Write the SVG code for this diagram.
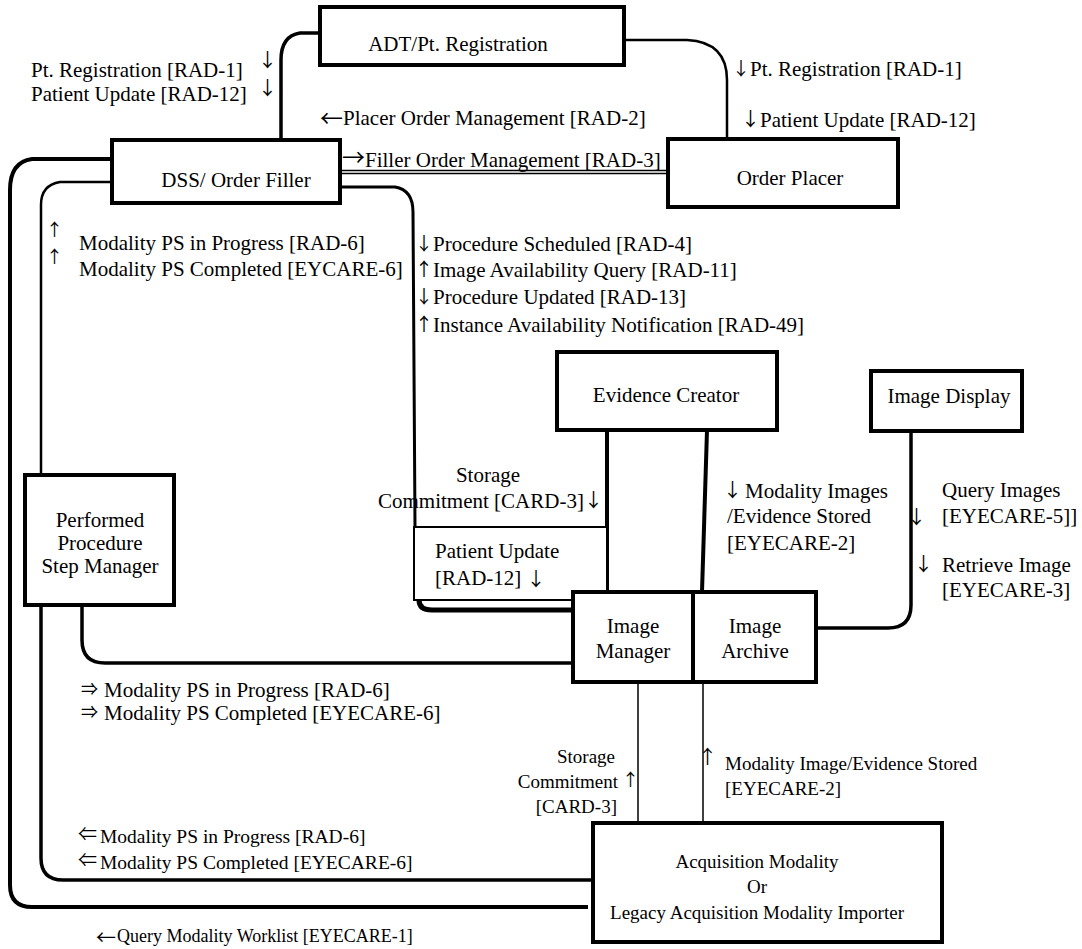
<svg xmlns="http://www.w3.org/2000/svg" width="1082" height="949" viewBox="0 0 1082 949">
<style>
text{font-family:"Liberation Serif","Times New Roman",serif;font-size:21px;fill:#000}
.a{font-family:"Noto Sans CJK JP","Noto Sans CJK SC",sans-serif}
.sm{font-size:19px}
.s195{font-size:19.5px}
.s18{font-size:18px}
.box{fill:#fff;stroke:#000;stroke-width:4}
.thin{fill:#fff;stroke:#000;stroke-width:2}
.c{fill:none;stroke:#000;stroke-linecap:butt}
.mid{text-anchor:middle}
.end{text-anchor:end}
</style>
<rect width="1082" height="949" fill="#fff"/>
<g id="connectors">
<path class="c" d="M320,33 H300 Q281,36 281,60 V140" stroke-width="3.5"/>
<path class="c" d="M624,40 H687 Q727,42 727,80 V139" stroke-width="2.5"/>
<path class="c" d="M340,172 H668" stroke-width="4.5"/>
<path d="M340,172 H668" stroke="#fff" stroke-width="1.3"/>
<path class="c" d="M112,159 H32 Q10,162 10,190 V885 Q10,907 32,907 H588" stroke-width="4"/>
<path class="c" d="M112,182 H60 Q41,185 41,205 V475" stroke-width="2.5"/>
<path class="c" d="M41,605 V858 Q41,880 63,880 H597" stroke-width="3.5"/>
<path class="c" d="M82,605 V640 Q82,663 105,663 H573" stroke-width="3.5"/>
<path class="c" d="M340,187 H395 Q413,190 413,212 L415,527" stroke-width="3"/>
<path class="c" d="M419,600 Q419,610 432,610 H573" stroke-width="5"/>
<path class="c" d="M607,430 V592" stroke-width="4"/>
<path class="c" d="M707,430 L702,592" stroke-width="4"/>
<path class="c" d="M911,431 V605 Q911,628 888,628 H816" stroke-width="3.5"/>
<path class="c" d="M638,682 V823" stroke-width="1.5"/>
<path class="c" d="M703,682 V823" stroke-width="1.5"/>
</g>
<g id="node-adt"><rect class="box" x="320" y="7" width="304" height="58" stroke-width="3"/><text class="mid" x="458" y="51">ADT/Pt. Registration</text></g>
<g id="node-dss"><rect class="box" x="112" y="140" width="228" height="63"/><text class="mid" x="236" y="187">DSS/ Order Filler</text></g>
<g id="node-placer"><rect class="box" x="668" y="139" width="230" height="68" stroke-width="5"/><text class="mid" x="790" y="185">Order Placer</text></g>
<g id="node-evidence"><rect class="box" x="557" y="352" width="220" height="78"/><text class="mid" x="666" y="402">Evidence Creator</text></g>
<g id="node-display"><rect class="box" x="871" y="371" width="151" height="60"/><text class="mid" x="949" y="403">Image Display</text></g>
<g id="node-ppsm"><rect class="box" x="25" y="475" width="149" height="130"/><text class="mid" x="100" y="527">Performed</text><text class="mid" x="100" y="550">Procedure</text><text class="mid" x="100" y="573">Step Manager</text></g>
<g id="node-patient-update"><rect class="thin" x="414" y="527" width="193" height="73"/><text x="435" y="558">Patient Update</text><text x="435" y="585">[RAD-12] <tspan class="a" style="font-size:19px" y="586">↓</tspan></text></g>
<g id="node-manager"><rect class="box" x="573" y="592" width="120" height="90"/><text class="mid" x="633" y="633">Image</text><text class="mid" x="633" y="658">Manager</text></g>
<g id="node-archive"><rect class="box" x="693" y="592" width="123" height="90"/><text class="mid" x="755" y="633">Image</text><text class="mid" x="755" y="658">Archive</text></g>
<g id="node-acq"><rect class="box" x="593" y="823" width="349" height="119" stroke-width="3.5"/><text class="mid sm" x="757" y="868">Acquisition Modality</text><text class="mid sm" x="757" y="893">Or</text><text class="mid sm" x="757" y="919">Legacy Acquisition Modality Importer</text></g>
<g id="labels">
<text x="31" y="77">Pt. Registration [RAD-1]</text>
<text x="31" y="101">Patient Update [RAD-12]</text>
<text class="a" style="font-size:19px" x="258" y="67">↓</text>
<text class="a" style="font-size:19px" x="258" y="95">↓</text>
<text x="320" y="125"><tspan class="a" style="font-size:23px" y="127">←</tspan><tspan x="343" y="125">Placer Order Management [RAD-2]</tspan></text>
<text x="342" y="167"><tspan class="a" style="font-size:23px" y="166">→</tspan><tspan x="365" y="167">Filler Order Management [RAD-3]</tspan></text>
<text x="732" y="76"><tspan class="a" style="font-size:18px" y="75">↓</tspan><tspan x="750" y="76">Pt. Registration [RAD-1]</tspan></text>
<text x="741" y="127"><tspan class="a" style="font-size:19px" y="126">↓</tspan><tspan x="760" y="127">Patient Update [RAD-12]</tspan></text>
<text class="a" style="font-size:17px" x="46" y="236">↑</text>
<text class="a" style="font-size:17px" x="46" y="263">↑</text>
<text x="79" y="250">Modality PS in Progress [RAD-6]</text>
<text x="79" y="276">Modality PS Completed [EYCARE-6]</text>
<text x="415" y="251"><tspan class="a" style="font-size:18px" y="250">↓</tspan><tspan x="433" y="251">Procedure Scheduled [RAD-4]</tspan></text>
<text x="415" y="277"><tspan class="a" style="font-size:18px" y="276">↑</tspan><tspan x="433" y="277">Image Availability Query [RAD-11]</tspan></text>
<text x="415" y="304"><tspan class="a" style="font-size:18px" y="303">↓</tspan><tspan x="433" y="304">Procedure Updated [RAD-13]</tspan></text>
<text x="415" y="332"><tspan class="a" style="font-size:18px" y="331">↑</tspan><tspan x="433" y="332">Instance Availability Notification [RAD-49]</tspan></text>
<text class="mid" x="488" y="482">Storage</text>
<text x="378" y="508">Commitment [CARD-3]<tspan class="a" style="font-size:19px" y="507">↓</tspan></text>
<text x="723" y="498"><tspan class="a" style="font-size:19px" y="497">↓</tspan><tspan x="745" y="498">Modality Images</tspan></text>
<text x="727" y="523">/Evidence Stored</text>
<text x="727" y="550">[EYECARE-2]</text>
<text x="942" y="497">Query Images</text>
<text class="a" style="font-size:19px" x="907" y="524">↓</text>
<text x="942" y="523">[EYECARE-5]]</text>
<text x="914" y="572"><tspan class="a" style="font-size:19px" y="571">↓</tspan><tspan x="942" y="572">Retrieve Image</tspan></text>
<text x="942" y="597">[EYECARE-3]</text>
<text x="81" y="697"><tspan class="a" style="font-size:17px" y="695">⇒</tspan><tspan x="104" y="697">Modality PS in Progress [RAD-6]</tspan></text>
<text x="81" y="720"><tspan class="a" style="font-size:17px" y="718">⇒</tspan><tspan x="104" y="720">Modality PS Completed [EYECARE-6]</tspan></text>
<text class="end sm" x="615" y="763">Storage</text>
<text class="end sm" x="618" y="788">Commitment</text>
<text class="a" style="font-size:17px" x="622" y="786">↑</text>
<text class="end sm" x="617" y="813">[CARD-3]</text>
<text class="a" style="font-size:19px" x="698" y="764">↑</text>
<text class="sm" x="725" y="770">Modality Image/Evidence Stored</text>
<text class="sm" x="725" y="795">[EYECARE-2]</text>
<text class="s195" x="78" y="843"><tspan class="a" style="font-size:19px" y="841">⇐</tspan><tspan x="100" y="843">Modality PS in Progress [RAD-6]</tspan></text>
<text class="s195" x="78" y="869"><tspan class="a" style="font-size:19px" y="867">⇐</tspan><tspan x="100" y="869">Modality PS Completed [EYECARE-6]</tspan></text>
<text class="s18" x="96" y="942"><tspan class="a" style="font-size:20px" y="945">←</tspan><tspan x="117" y="942">Query Modality Worklist [EYECARE-1]</tspan></text>
</g>
</svg>
